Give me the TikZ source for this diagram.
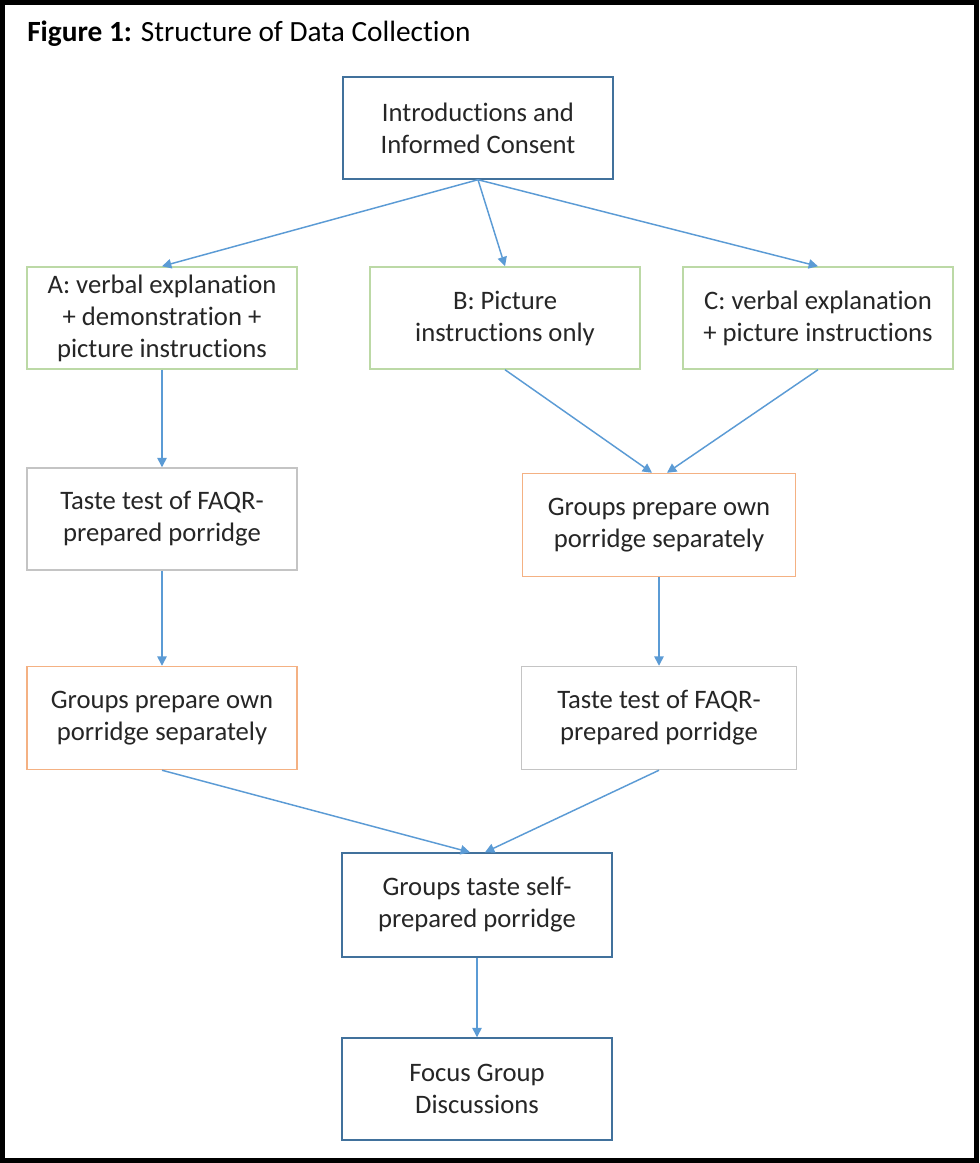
\documentclass[tikz,border=0pt]{standalone}
\usepackage{fontspec}
\setmainfont{Carlito}[Ligatures=NoCommon]
\usetikzlibrary{arrows.meta}
\definecolor{bluebox}{HTML}{41719C}
\definecolor{greenbox}{HTML}{BCD9A6}
\definecolor{orangebox}{HTML}{F4B183}
\definecolor{graybox}{HTML}{C4C4C4}
\definecolor{arrowblue}{HTML}{5B9BD5}
\definecolor{txt}{HTML}{262626}
\begin{document}
\begin{tikzpicture}[x=0.75pt,y=-0.75pt,
  box/.style={rectangle, line width=1.1pt, fill=white, text=txt, align=center,
    minimum width=202.5pt, minimum height=76.5pt, inner sep=2pt,
    font=\fontsize{20}{24}\selectfont},
  conn/.style={draw=arrowblue, line width=1.1pt, -{Triangle[width=7pt,length=7pt]}},
  frame/.style={draw=black, line width=3.75pt}]
\useasboundingbox (0,0) rectangle (979,1163);
\fill[white] (0,0) rectangle (979,1163);
\draw[frame] (2.5,2.5) rectangle (976.5,1160.5);
\node[anchor=base west, inner sep=0pt, font=\fontsize{22}{26}\selectfont] (title) at (27,42)
  {\textbf{Figure 1:} Structure of Data Collection};

\node[box, draw=bluebox] (intro) at (478,128) {Introductions and\\Informed Consent};
\node[box, draw=greenbox] (A) at (162,318) {A: verbal explanation\\+ demonstration +\\picture instructions};
\node[box, draw=greenbox] (B) at (505,318) {B: Picture\\instructions only};
\node[box, draw=greenbox] (C) at (818,318) {C: verbal explanation\\+ picture instructions};
\node[box, draw=graybox] (tasteL) at (162,519) {Taste test of FAQR-\\prepared porridge};
\node[box, draw=orangebox, minimum width=204.75pt, minimum height=77.25pt] (prepR) at (659,525) {Groups prepare own\\porridge separately};
\node[box, draw=orangebox, minimum height=77.25pt] (prepL) at (162,718) {Groups prepare own\\porridge separately};
\node[box, draw=graybox, minimum width=206pt, minimum height=77.25pt] (tasteR) at (659,718) {Taste test of FAQR-\\prepared porridge};
\node[box, draw=bluebox, minimum height=78pt] (gtaste) at (477,905) {Groups taste self-\\prepared porridge};
\node[box, draw=bluebox] (focus) at (477,1089) {Focus Group\\Discussions};

\draw[conn] (intro.south) -- (A.north);
\draw[conn] (intro.south) -- (B.north);
\draw[conn] (intro.south) -- (C.north);
\draw[conn] (A) -- (tasteL);
\draw[conn] (B.south) -- ([xshift=-5.25pt]prepR.north);
\draw[conn] (C.south) -- ([xshift=6pt]prepR.north);
\draw[conn] (tasteL) -- (prepL);
\draw[conn] (prepR) -- (tasteR);
\draw[conn] (prepL.south) -- ([xshift=-5.25pt]gtaste.north);
\draw[conn] (tasteR.south) -- ([xshift=6pt]gtaste.north);
\draw[conn] (gtaste) -- (focus);
\end{tikzpicture}
\end{document}
